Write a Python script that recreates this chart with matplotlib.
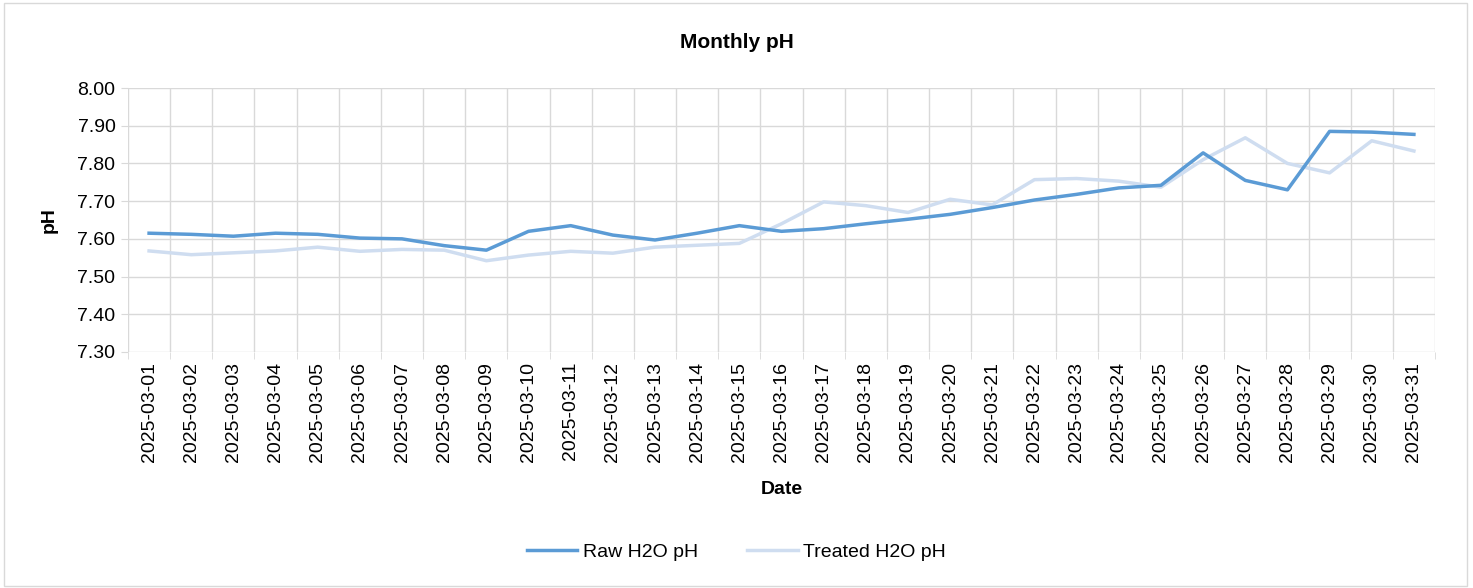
import matplotlib.pyplot as plt
from matplotlib.patches import Rectangle
import numpy as np

dates = [f"2025-03-{d:02d}" for d in range(1, 32)]

raw_ph = [7.615, 7.612, 7.607, 7.615, 7.612, 7.602, 7.600, 7.582, 7.570, 7.620,
          7.635, 7.610, 7.597, 7.615, 7.635, 7.620, 7.627, 7.640, 7.652, 7.665,
          7.683, 7.703, 7.718, 7.735, 7.742, 7.828, 7.755, 7.730, 7.885, 7.883,
          7.877]

treated_ph = [7.568, 7.558, 7.563, 7.568, 7.578, 7.567, 7.572, 7.570, 7.542, 7.557,
              7.567, 7.562, 7.578, 7.583, 7.588, 7.640, 7.698, 7.688, 7.670, 7.705,
              7.690, 7.757, 7.760, 7.753, 7.737, 7.810, 7.868, 7.800, 7.775, 7.860,
              7.833]

plt.rcParams["font.family"] = ["Liberation Sans", "DejaVu Sans"]

fig = plt.figure(figsize=(14.73, 5.88), dpi=100)
ax = fig.add_axes([128 / 1473, 1 - 352 / 588, (1435 - 128) / 1473, 264 / 588])

x = np.arange(len(dates))
ax.plot(x, raw_ph, color="#5B9BD5", linewidth=2.5, label="Raw H2O pH", zorder=3)
ax.plot(x, treated_ph, color="#CFDDF0", linewidth=2.5, label="Treated H2O pH", zorder=2)

ax.set_xlim(-0.5, len(dates) - 0.5)
ax.set_ylim(7.30, 8.00)
ax.set_yticks(np.arange(7.30, 8.001, 0.10))
ax.set_yticklabels([f"{v:.2f}" for v in np.arange(7.30, 8.001, 0.10)])
ax.set_xticks(x)
ax.set_xticklabels(dates, rotation=90)
ax.set_xticks(np.arange(-0.5, len(dates)), minor=True)

grid_c = "#D9D9D9"
ax.grid(axis="y", which="major", color=grid_c, linewidth=1)
ax.grid(axis="x", which="minor", color=grid_c, linewidth=1)
ax.tick_params(axis="x", which="major", length=0, pad=7, labelsize=14)
ax.tick_params(axis="x", which="minor", length=5, color=grid_c)
ax.tick_params(axis="y", length=5, color=grid_c, labelsize=14, pad=4)
for s in ax.spines.values():
    s.set_visible(False)
ax.set_axisbelow(True)

ax.set_ylabel("pH", fontsize=14, fontweight="bold", labelpad=14)
ax.set_xlabel("Date", fontsize=14, fontweight="bold", labelpad=14)

fig.text(0.5, 1 - 42 / 588, "Monthly pH", ha="center", va="center",
         fontsize=15, fontweight="bold")

fig.legend(loc="center", bbox_to_anchor=(0.5, 1 - 552 / 588), ncol=2, frameon=False,
           fontsize=14, handlelength=2.6, columnspacing=2.5, handletextpad=0.3)

fig.patches.append(Rectangle((0.003, 0.004), 0.993, 0.991, transform=fig.transFigure,
                             fill=False, edgecolor=grid_c, linewidth=1))

fig.savefig("out.png", dpi=100)
